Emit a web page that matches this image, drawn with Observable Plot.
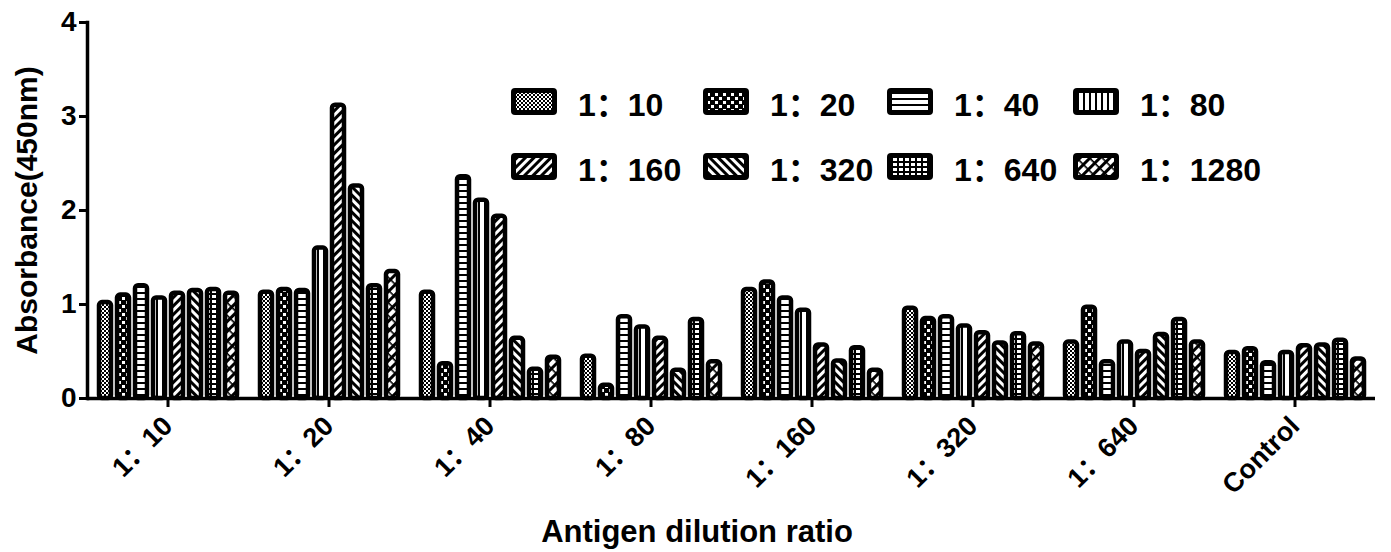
<!DOCTYPE html>
<html><head><meta charset="utf-8">
<script src="https://cdn.jsdelivr.net/npm/d3@7"></script>
<script src="https://cdn.jsdelivr.net/npm/@observablehq/plot@0.6"></script>
<style>
body{margin:0;background:#fff;}
#wrap{position:relative;width:1391px;height:552px;font-family:"Liberation Sans","Noto Sans CJK SC",Arial,sans-serif;font-weight:bold;color:#000;}
#legend{position:absolute;left:511px;top:88px;display:grid;grid-template-columns:192px 184px 186px auto;row-gap:38px;}
.item{display:flex;align-items:center;height:27px;font-size:32px;white-space:nowrap;}
.item svg{margin-right:21px;flex:none;}
#xtitle{position:absolute;left:0;width:1394px;text-align:center;top:514px;font-size:31px;}
#wrap svg g[aria-label="y-axis tick label"]{font-size:28px;}
#wrap svg g[aria-label="fx-axis tick label"]{font-size:27px;}
#wrap svg g[aria-label="y-axis label"]{font-size:30px;}
#wrap svg g[aria-label="y-axis tick"], #wrap svg g[aria-label="fx-axis tick"]{stroke-width:3px;}
#wrap svg g[aria-label="frame"]{stroke-width:3.5px;}
#defs{position:absolute;width:0;height:0;}
</style>
</head><body>
<div id="wrap" lang="zh-CN">
<svg id="defs" width="0" height="0">
 <defs>
  <pattern id="pat0" patternUnits="userSpaceOnUse" width="4" height="4"><rect width="4" height="4" fill="#fff"/><rect width="2" height="2" fill="#000"/><rect x="2" y="2" width="2" height="2" fill="#000"/></pattern>
  <pattern id="pat1" patternUnits="userSpaceOnUse" width="8" height="8"><rect width="8" height="8" fill="#000"/><rect x="0" y="1" width="3" height="3" fill="#fff"/><rect x="4" y="5" width="3" height="3" fill="#fff"/></pattern>
  <pattern id="pat2" patternUnits="userSpaceOnUse" width="6" height="6"><rect width="6" height="6" fill="#fff"/><rect y="4" width="6" height="2" fill="#000"/></pattern>
  <pattern id="pat3" patternUnits="userSpaceOnUse" width="6" height="6"><rect width="6" height="6" fill="#fff"/><rect x="4" width="2" height="6" fill="#000"/></pattern>
  <pattern id="pat4" patternUnits="userSpaceOnUse" width="6" height="6" patternTransform="rotate(45)"><rect width="6" height="6" fill="#fff"/><rect width="3" height="6" fill="#000"/></pattern>
  <pattern id="pat5" patternUnits="userSpaceOnUse" width="6" height="6" patternTransform="rotate(-45)"><rect width="6" height="6" fill="#fff"/><rect width="3" height="6" fill="#000"/></pattern>
  <pattern id="pat6" patternUnits="userSpaceOnUse" width="6" height="5"><rect width="6" height="5" fill="#fff"/><rect x="4" width="2" height="5" fill="#000"/><rect y="3" width="6" height="2" fill="#000"/></pattern>
  <pattern id="pat7" patternUnits="userSpaceOnUse" width="7" height="9" patternTransform="rotate(45)"><rect width="7" height="9" fill="#fff"/><rect width="3" height="9" fill="#000"/><rect x="3" y="0" width="4" height="1.6" fill="#000"/></pattern>
 </defs>
</svg>
<div id="chart"></div>
<div id="legend"></div>
<div id="xtitle">Antigen dilution ratio</div>
</div>
<script>
// Categories on the x axis (antigen dilution)
const groups = ["1：10", "1：20", "1：40", "1：80", "1：160", "1：320", "1：640", "Control"];
// Series (serum dilution) shown in the legend
const series = ["1：10", "1：20", "1：40", "1：80", "1：160", "1：320", "1：640", "1：1280"];
// Absorbance values, one array per antigen dilution group, in series order
const g10      = [1.02, 1.10, 1.20, 1.07, 1.12, 1.15, 1.16, 1.12];
const g20      = [1.13, 1.16, 1.15, 1.60, 3.12, 2.26, 1.20, 1.35];
const g40      = [1.13, 0.37, 2.36, 2.11, 1.94, 0.64, 0.31, 0.44];
const g80      = [0.45, 0.14, 0.87, 0.76, 0.64, 0.30, 0.84, 0.39];
const g160     = [1.16, 1.24, 1.07, 0.94, 0.57, 0.40, 0.54, 0.30];
const g320     = [0.96, 0.85, 0.87, 0.77, 0.70, 0.59, 0.69, 0.58];
const g640     = [0.60, 0.97, 0.39, 0.60, 0.50, 0.68, 0.84, 0.60];
const gControl = [0.49, 0.53, 0.38, 0.49, 0.56, 0.57, 0.62, 0.42];
const yTicks = [0, 1, 2, 3, 4];

const valueRows = [g10, g20, g40, g80, g160, g320, g640, gControl];
const data = groups.flatMap((g, gi) => series.map((s, si) => ({group: g, series: s, value: valueRows[gi][si]})));

const chart = Plot.plot({
  width: 1391,
  height: 552,
  marginLeft: 85,
  marginRight: 14,
  marginTop: 22,
  marginBottom: 154,
  style: {fontFamily: "'Liberation Sans', 'Noto Sans CJK SC', Arial, sans-serif", fontWeight: "bold", color: "#000", background: "transparent", overflow: "visible"},
  fx: {domain: groups, padding: 0, axis: "bottom", label: null, tickSize: 9, tickPadding: 14, tickRotate: -45},
  x: {domain: series, axis: null, paddingInner: 0.344, paddingOuter: 0.51},
  y: {domain: [0, 4], ticks: yTicks, tickFormat: d3.format("d"), tickSize: 8, tickPadding: 3, line: true,
      label: "Absorbance(450nm)", labelAnchor: "center", labelOffset: 72, labelArrow: "none"},
  marks: [
    ...series.map((s, i) => Plot.barY(data.filter(d => d.series === s), {
      fx: "group", x: "series", y: "value",
      fill: `url(#pat${i})`, stroke: "#000", strokeWidth: 4.5, rx: 3
    })),
    Plot.ruleY([0], {stroke: "#000", strokeWidth: 3.5})
  ]
});
document.getElementById("chart").appendChild(chart);

const legend = document.getElementById("legend");
series.forEach((s, i) => {
  const item = document.createElement("div");
  item.className = "item";
  item.innerHTML = `<svg width="46" height="27"><rect width="46" height="27" rx="4" fill="#000"/><rect x="5" y="5" width="36" height="17" fill="url(#pat${i})"/></svg><span>${s}</span>`;
  legend.appendChild(item);
});
</script>
</body></html>
